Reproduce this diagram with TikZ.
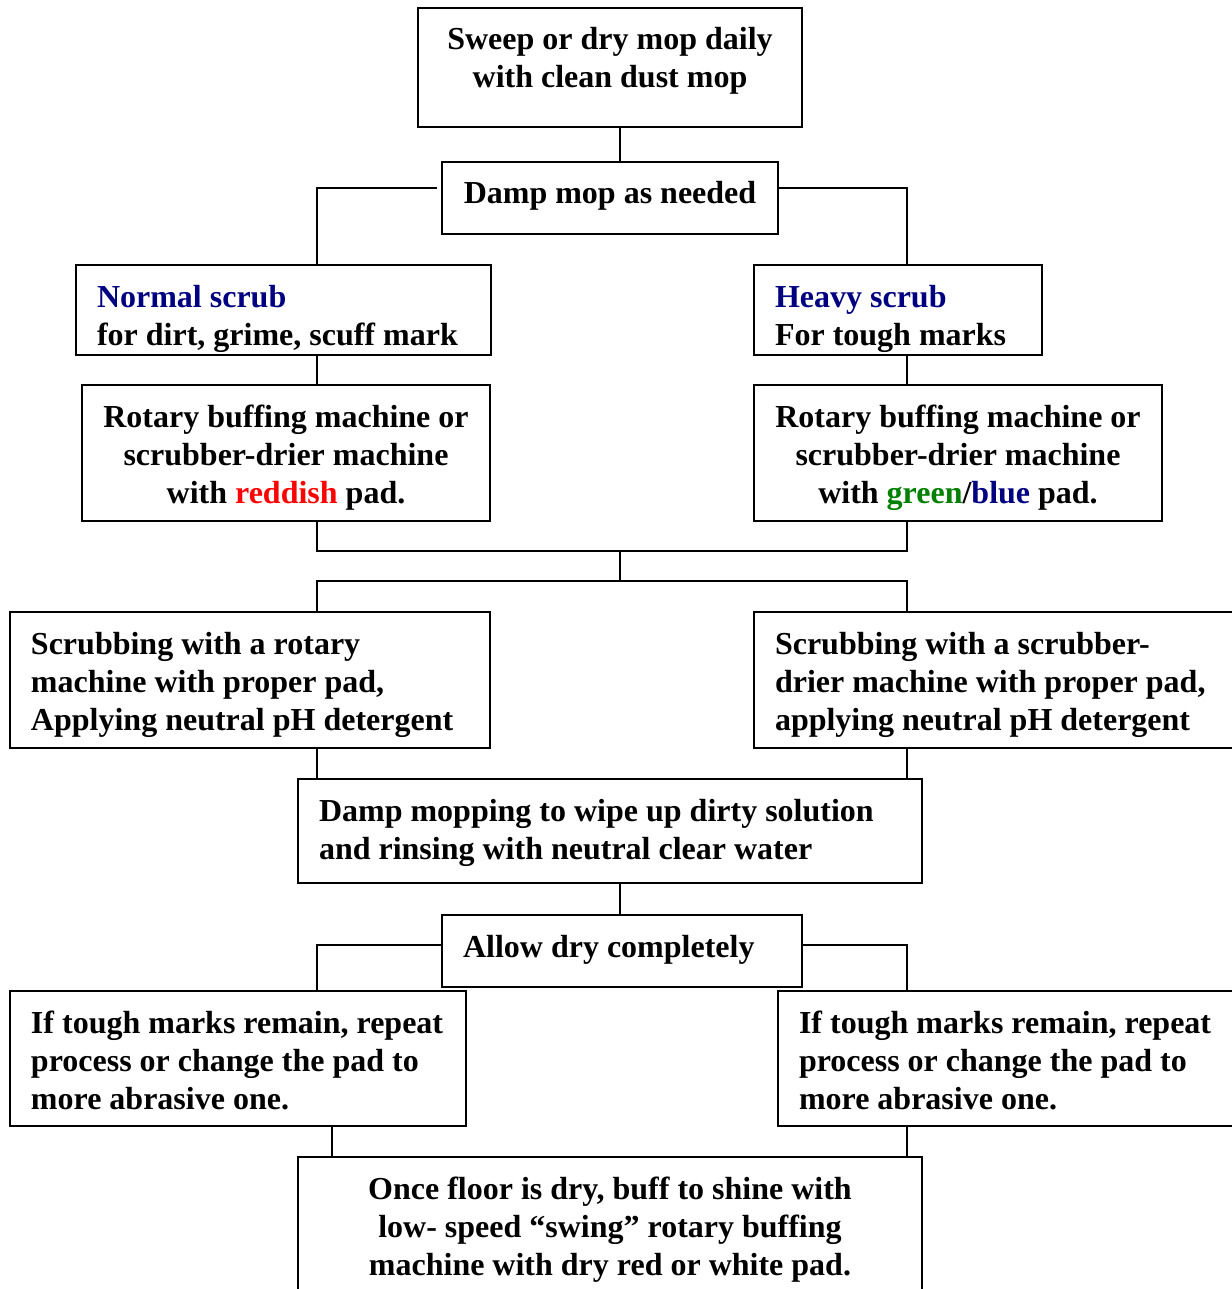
\documentclass[tikz,border=0pt]{standalone}
\usepackage{fontspec}
\setmainfont{Liberation Serif}
\definecolor{navyblue}{HTML}{000080}
\definecolor{padred}{HTML}{FF0000}
\definecolor{padgreen}{HTML}{008000}
\begin{document}
\begin{tikzpicture}[x=0.5pt,y=-0.5pt]
    \tikzset{block/.style={draw, rectangle, line width=1pt, anchor=north west, inner xsep=10.5pt, inner ysep=0pt, text height=0pt, text depth=0pt, font=\bfseries\fontsize{16}{19}\selectfont},
        midblock/.style={block, align=center},
        leftblock/.style={block, align=flush left},
        link/.style={draw, line width=1pt}};
    \useasboundingbox (0,0) rectangle (1231,1289);
    % column axes of the connectors
    \coordinate (midx) at (620,0);
    \coordinate (leftx) at (317,0);
    \coordinate (rightx) at (907,0);
    \coordinate (lowx) at (332,0);
    \coordinate (join1) at (620,551);
    \coordinate (split1) at (620,581);

    \node[midblock, minimum width=192pt, minimum height=59.5pt, text height=20.5pt] (sweep) at (417,7) {Sweep or dry mop daily\\with clean dust mop};
    \node[midblock, minimum width=168pt, minimum height=36pt, text height=6pt] (damp) at (441,161) {Damp mop as needed};
    \node[leftblock, text width=186.5pt, minimum height=45pt, text depth=3pt] (normal) at (75,264) {\textcolor{navyblue}{Normal scrub}\\for dirt, grime, scuff mark};
    \node[leftblock, text width=123pt, minimum height=45pt, text depth=3pt] (heavy) at (753,264) {\textcolor{navyblue}{Heavy scrub}\\For tough marks};
    \node[midblock, minimum width=204pt, minimum height=68pt, text height=50pt] (rotL) at (81,384) {Rotary buffing machine or\\scrubber-drier machine\\with \textcolor{padred}{reddish} pad.};
    \node[midblock, minimum width=204pt, minimum height=68pt, text height=50pt] (rotR) at (753,384) {Rotary buffing machine or\\scrubber-drier machine\\with \textcolor{padgreen}{green}/\textcolor{navyblue}{blue} pad.};
    \node[leftblock, text width=219pt, minimum height=68pt, text depth=26pt] (scrubL) at (9,611) {Scrubbing with a rotary\\machine with proper pad,\\Applying neutral pH detergent};
    \node[leftblock, text width=229pt, minimum height=68pt, text depth=26pt] (scrubR) at (753,611) {Scrubbing with a scrubber-\\drier machine with proper pad,\\applying neutral pH detergent};
    \node[leftblock, text width=291pt, minimum height=52pt, text depth=10pt] (dampmop) at (297,778) {Damp mopping to wipe up dirty solution\\and rinsing with neutral clear water};
    \node[leftblock, text width=159pt, minimum height=36pt, text height=6pt] (allow) at (441,914) {Allow dry completely};
    \node[leftblock, text width=207pt, minimum height=67.5pt, text depth=25.5pt] (toughL) at (9,990) {If tough marks remain, repeat\\process or change the pad to\\more abrasive one.};
    \node[leftblock, text width=219pt, minimum height=67.5pt, text depth=25.5pt] (toughR) at (777,990) {If tough marks remain, repeat\\process or change the pad to\\more abrasive one.};
    \node[midblock, minimum width=312pt, minimum height=68pt, text height=50pt] (once) at (297,1156) {Once floor is dry, buff to shine with\\low- speed “swing” rotary buffing\\machine with dry red or white pad.};

    \draw[link] (sweep.south -| midx) -- (damp.north -| midx);
    \draw[link] ([shift={(-2pt,5pt)}]damp.west) -| (normal.north -| leftx);
    \draw[link] ([yshift=5pt]damp.east) -| (heavy.north -| rightx);
    \draw[link] (normal.south -| leftx) -- (rotL.north -| leftx);
    \draw[link] (heavy.south -| rightx) -- (rotR.north -| rightx);
    \draw[link] (rotL.south -| leftx) |- (join1) -| (rotR.south -| rightx);
    \draw[link] (join1) -- (split1);
    \draw[link] (scrubL.north -| leftx) |- (split1) -| (scrubR.north -| rightx);
    \draw[link] (scrubL.south -| leftx) -- (dampmop.north -| leftx);
    \draw[link] (scrubR.south -| rightx) -- (dampmop.north -| rightx);
    \draw[link] (dampmop.south -| midx) -- (allow.north -| midx);
    \draw[link] ([yshift=3pt]allow.west) -| (toughL.north -| leftx);
    \draw[link] ([yshift=3pt]allow.east) -| (toughR.north -| rightx);
    \draw[link] (toughL.south -| lowx) -- (once.north -| lowx);
    \draw[link] (toughR.south -| rightx) -- (once.north -| rightx);
\end{tikzpicture}
\end{document}
